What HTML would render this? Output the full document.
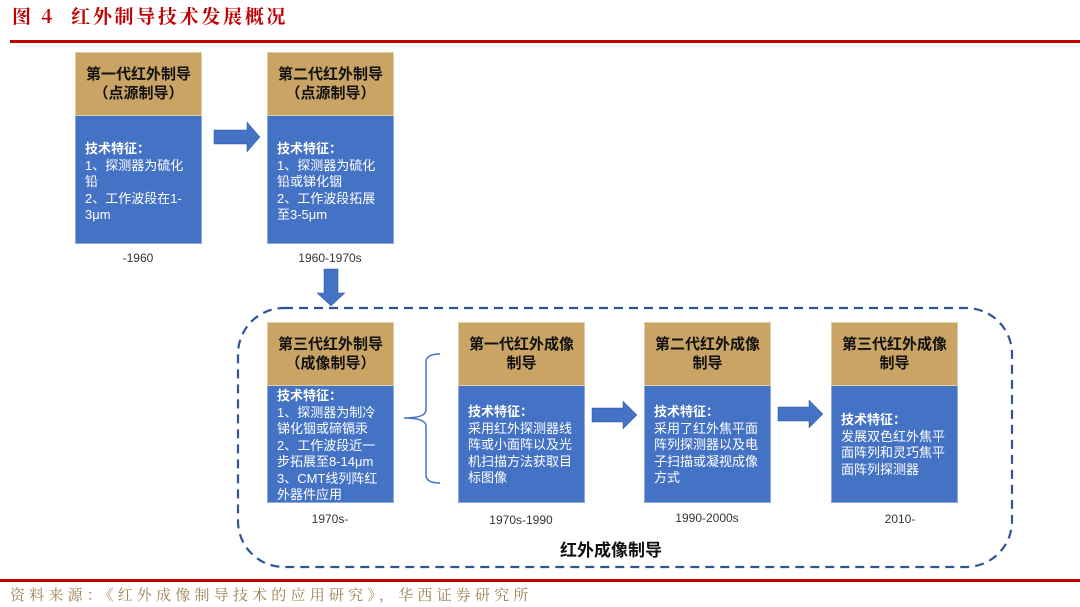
<!DOCTYPE html>
<html><head><meta charset="utf-8"><style>
body{margin:0;width:1080px;height:607px;background:#fff;position:relative;overflow:hidden;font-family:"Liberation Sans","Noto Sans CJK SC",sans-serif}
.a{position:absolute}
.t{position:absolute;background:#C9A464;color:#111;font-weight:bold;font-size:15px;line-height:19px;text-align:center;box-sizing:border-box;display:flex;align-items:center;justify-content:center;border:1px solid #e0cfa8}
.b{position:absolute;background:#4472C4;color:#fff;font-size:13px;line-height:16.5px;box-sizing:border-box;padding:0 8px 0 9px;border:1px solid #8faadc;border-top:none}
.b b{font-weight:bold}
.y{position:absolute;font-size:12px;color:#333;text-align:center;width:140px}
</style></head><body>
<div class="a" style="left:12px;top:2px;color:#C00000;font-family:'Noto Serif CJK SC',serif;font-size:19px;font-weight:bold;letter-spacing:2.7px;white-space:nowrap">图 4<span style="display:inline-block;width:16px"></span>红外制导技术发展概况</div>
<div class="a" style="left:10px;top:40px;width:1070px;height:3px;background:#C00000"></div>

<div class="t" style="left:75px;top:52px;width:127px;height:64px">第一代红外制导<br>（点源制导）</div>
<div class="b" style="left:75px;top:116px;width:127px;height:128px;padding-top:25px"><b>技术特征：</b><br>1、探测器为硫化铅<br>2、工作波段在1-3μm</div>
<div class="y" style="left:68px;top:251px">-1960</div>

<div class="t" style="left:267px;top:52px;width:127px;height:64px">第二代红外制导<br>（点源制导）</div>
<div class="b" style="left:267px;top:116px;width:127px;height:128px;padding-top:25px"><b>技术特征：</b><br>1、探测器为硫化铅或锑化铟<br>2、工作波段拓展至3-5μm</div>
<div class="y" style="left:260px;top:251px">1960-1970s</div>

<svg class="a" style="left:0;top:0" width="1080" height="607">
<polygon points="214,130 247,130 247,122 260,137 247,152 247,144 214,144" fill="#4472C4" stroke="#2F5597" stroke-width="0.5"/>
<polygon points="324,269 338,269 338,293 345,293 331,306 317,293 324,293" fill="#4472C4" stroke="#2F5597" stroke-width="0.5"/>
<polygon points="592,408 623,408 623,401 637,415 623,429 623,422 592,422" fill="#4472C4" stroke="#2F5597" stroke-width="0.5"/>
<polygon points="778,407 809,407 809,400 823,414 809,428 809,421 778,421" fill="#4472C4" stroke="#2F5597" stroke-width="0.5"/>
<rect x="238" y="308" width="774" height="259" rx="46" ry="46" fill="none" stroke="#2F5597" stroke-width="2.2" stroke-dasharray="9,6"/>
<path d="M440,354 Q426,354 426,362 L426,410 Q426,418 404,418 Q426,418 426,426 L426,475 Q426,483 440,483" fill="none" stroke="#4472C4" stroke-width="1.5"/>
</svg>

<div class="t" style="left:267px;top:322px;width:127px;height:64px">第三代红外制导<br>（成像制导）</div>
<div class="b" style="left:267px;top:386px;width:127px;height:117px;padding-top:2px"><b>技术特征：</b><br>1、探测器为制冷锑化铟或碲镉汞<br>2、工作波段近一步拓展至8-14μm<br>3、CMT线列阵红外器件应用</div>
<div class="y" style="left:260px;top:512px">1970s-</div>

<div class="t" style="left:458px;top:322px;width:127px;height:64px">第一代红外成像<br>制导</div>
<div class="b" style="left:458px;top:386px;width:127px;height:117px;padding-top:18px"><b>技术特征：</b><br>采用红外探测器线阵或小面阵以及光机扫描方法获取目标图像</div>
<div class="y" style="left:451px;top:513px">1970s-1990</div>

<div class="t" style="left:644px;top:322px;width:127px;height:64px">第二代红外成像<br>制导</div>
<div class="b" style="left:644px;top:386px;width:127px;height:117px;padding-top:18px"><b>技术特征：</b><br>采用了红外焦平面阵列探测器以及电子扫描或凝视成像方式</div>
<div class="y" style="left:637px;top:511px">1990-2000s</div>

<div class="t" style="left:831px;top:322px;width:127px;height:64px">第三代红外成像<br>制导</div>
<div class="b" style="left:831px;top:386px;width:127px;height:117px;padding-top:26px"><b>技术特征：</b><br>发展双色红外焦平面阵列和灵巧焦平面阵列探测器</div>
<div class="y" style="left:830px;top:512px">2010-</div>

<div class="a" style="left:560px;top:536px;font-size:17px;font-weight:bold;color:#111">红外成像制导</div>
<div class="a" style="left:0;top:579px;width:1080px;height:3px;background:#C00000"></div>
<div class="a" style="left:10px;top:584px;color:#A08050;font-family:'Noto Serif CJK SC',serif;font-size:15px;letter-spacing:4.2px;white-space:nowrap">资料来源：《红外成像制导技术的应用研究》，华西证券研究所</div>
</body></html>
